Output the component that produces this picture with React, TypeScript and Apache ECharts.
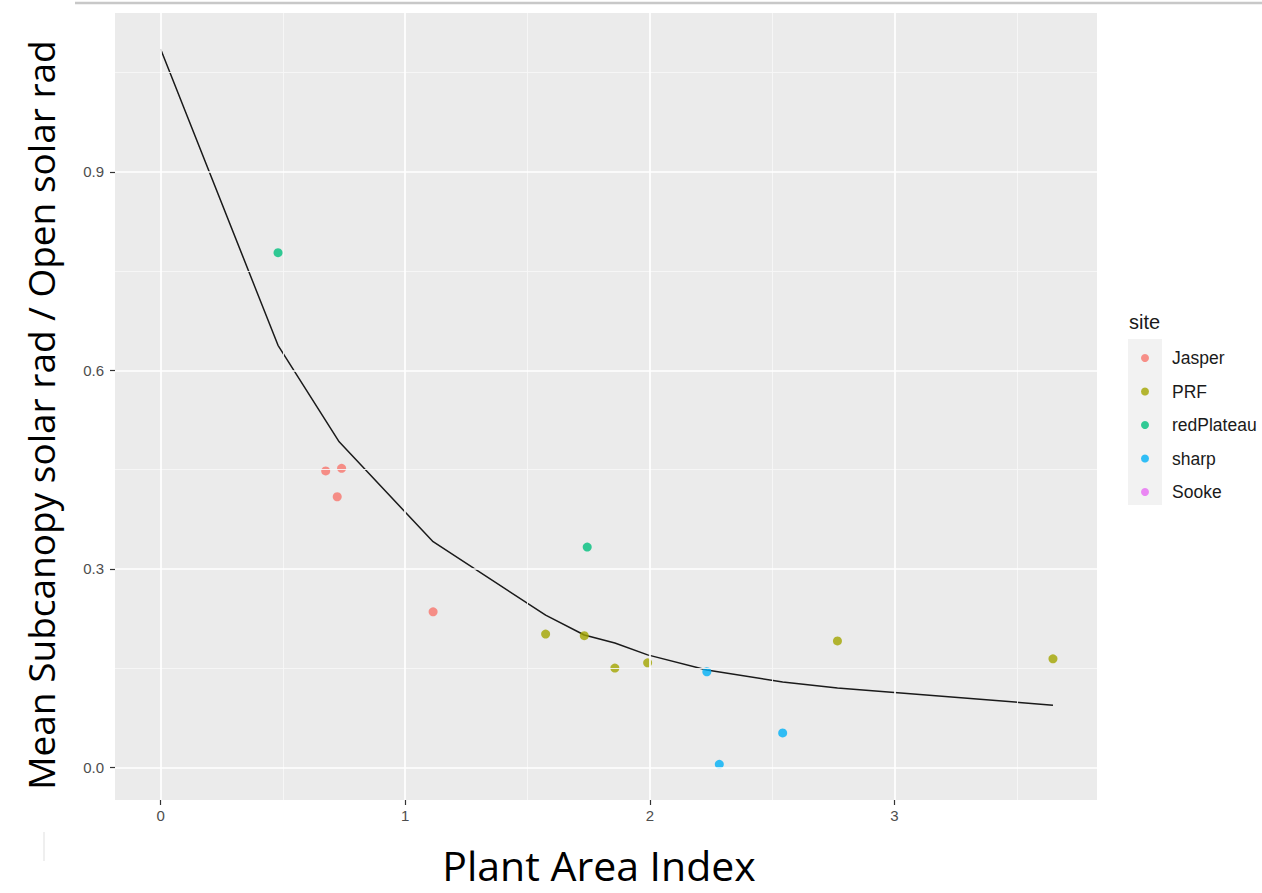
import React, { useEffect, useRef } from "react";
import * as echarts from "echarts";

// ---- data ----
const jasperX = [0.675, 0.74, 0.722, 1.114];
const jasperY = [0.448, 0.452, 0.409, 0.235];
const prfX = [1.574, 1.732, 1.857, 1.991, 2.767, 3.648];
const prfY = [0.2015, 0.199, 0.15, 0.158, 0.191, 0.164];
const redPlateauX = [0.48, 1.744];
const redPlateauY = [0.778, 0.333];
const sharpX = [2.233, 2.284, 2.543];
const sharpY = [0.1445, 0.0045, 0.052];
const sookeX: number[] = [];
const sookeY: number[] = [];

const fitX = [0, 0.48, 0.73, 1.114, 1.574, 1.732, 1.857, 1.991, 2.233, 2.543, 2.767, 3.648];
const fitY = [1.086, 0.638, 0.492, 0.341, 0.23, 0.2, 0.188, 0.17, 0.147, 0.129, 0.12, 0.094];

const sites = ["Jasper", "PRF", "redPlateau", "sharp", "Sooke"];
const siteColors = ["#F8766D", "#A3A500", "#00BF7D", "#00B0F6", "#E76BF3"];

const xTicks = [0, 1, 2, 3];
const yTicks = [0, 0.3, 0.6, 0.9];
const xMinor = [0.5, 1.5, 2.5, 3.5];
const yMinor = [0.15, 0.45, 0.75, 1.05];

const X_MIN = -0.1864;
const X_MAX = 3.828;
const Y_MIN = -0.0494;
const Y_MAX = 1.1403;

const zip = (xs: number[], ys: number[]) => xs.map((x, i) => [x, ys[i]]);

export default function App() {
  const ref = useRef<HTMLDivElement>(null);
  useEffect(() => {
    if (!ref.current) return;
    const chart = echarts.init(ref.current, undefined, { renderer: "svg" });
    const siteData = [
      zip(jasperX, jasperY),
      zip(prfX, prfY),
      zip(redPlateauX, redPlateauY),
      zip(sharpX, sharpY),
      zip(sookeX, sookeY),
    ];
    const gridLines = [
      ...xMinor.map((v) => ({ xAxis: v, lineStyle: { width: 0.9, color: "#F7F7F7" } })),
      ...yMinor.map((v) => ({ yAxis: v, lineStyle: { width: 0.9, color: "#F7F7F7" } })),
      ...xTicks.map((v) => ({ xAxis: v, lineStyle: { width: 1.7, color: "#FFFFFF" } })),
      ...yTicks.map((v) => ({ yAxis: v, lineStyle: { width: 1.7, color: "#FFFFFF" } })),
    ];
    chart.setOption({
      animation: false,
      backgroundColor: "#FFFFFF",
      grid: {
        left: 115,
        top: 13,
        width: 982,
        height: 787,
        show: true,
        backgroundColor: "#EBEBEB",
        borderWidth: 0,
      },
      xAxis: {
        type: "value",
        min: X_MIN,
        max: X_MAX,
        axisLine: { show: false, onZero: false },
        splitLine: { show: false },
        axisTick: {
          show: true,
          customValues: xTicks,
          length: 5,
          lineStyle: { color: "#333333", width: 1.2 },
        },
        axisLabel: {
          customValues: xTicks,
          color: "#4D4D4D",
          fontSize: 15,
          fontFamily: "Liberation Sans",
          margin: 8,
          formatter: (v: number) => String(v),
        },
      },
      yAxis: {
        type: "value",
        min: Y_MIN,
        max: Y_MAX,
        axisLine: { show: false, onZero: false },
        splitLine: { show: false },
        axisTick: {
          show: true,
          customValues: yTicks,
          length: 5,
          lineStyle: { color: "#333333", width: 1.2 },
        },
        axisLabel: {
          customValues: yTicks,
          color: "#4D4D4D",
          fontSize: 15,
          fontFamily: "Liberation Sans",
          margin: 11,
          formatter: (v: number) => v.toFixed(1),
        },
      },
      legend: {
        data: sites,
        orient: "vertical",
        left: 1141,
        top: 349,
        padding: 0,
        itemWidth: 44,
        itemHeight: 8,
        itemGap: 15.5,
        icon: "circle",
        textStyle: {
          fontSize: 17.5,
          color: "#1A1A1A",
          fontFamily: "Liberation Sans",
        },
        selectedMode: false,
      },
      graphic: [
        {
          type: "line",
          shape: { x1: 75, y1: 3, x2: 1262, y2: 3 },
          style: { stroke: "#C8C8C8", lineWidth: 2.5 },
          silent: true,
        },
        {
          type: "line",
          shape: { x1: 44, y1: 832, x2: 44, y2: 861 },
          style: { stroke: "#EFEFEF", lineWidth: 2 },
          silent: true,
        },
        {
          type: "rect",
          shape: { x: 1128, y: 339, width: 34, height: 166 },
          style: { fill: "#F2F2F2" },
          silent: true,
          z: -1,
        },
        {
          type: "text",
          x: 1129,
          y: 322,
          style: {
            text: "site",
            fill: "#1A1A1A",
            font: "20px 'Liberation Sans'",
            align: "left",
            verticalAlign: "middle",
          },
        },
        {
          type: "text",
          x: 599,
          y: 865,
          style: {
            text: "Plant Area Index",
            fill: "#000000",
            font: "41px 'Open Sans'",
            align: "center",
            verticalAlign: "middle",
          },
        },
        {
          type: "text",
          x: 40,
          y: 415,
          rotation: Math.PI / 2,
          style: {
            text: "Mean Subcanopy solar rad / Open solar rad",
            fill: "#000000",
            font: "37px 'Open Sans'",
            align: "center",
            verticalAlign: "middle",
          },
        },
      ],
      series: [
        {
          type: "scatter",
          name: "__grid",
          data: [],
          silent: true,
          z: 1,
          markLine: {
            silent: true,
            symbol: ["none", "none"],
            label: { show: false },
            lineStyle: { type: "solid" },
            data: gridLines,
          },
        },
        {
          type: "line",
          name: "fit",
          data: zip(fitX, fitY),
          showSymbol: false,
          symbol: "none",
          lineStyle: { color: "#1A1A1A", width: 1.5 },
          z: 3,
          silent: true,
        },
        ...sites.map((s, i) => ({
          type: "scatter",
          name: s,
          data: siteData[i],
          symbol: "circle",
          symbolSize: 9,
          itemStyle: { color: siteColors[i] },
          z: 4,
        })),
      ],
    });
    return () => chart.dispose();
  }, []);
  return (
    <div
      ref={ref}
      style={{ position: "fixed", left: 0, top: 0, width: 1262, height: 893 }}
    />
  );
}
